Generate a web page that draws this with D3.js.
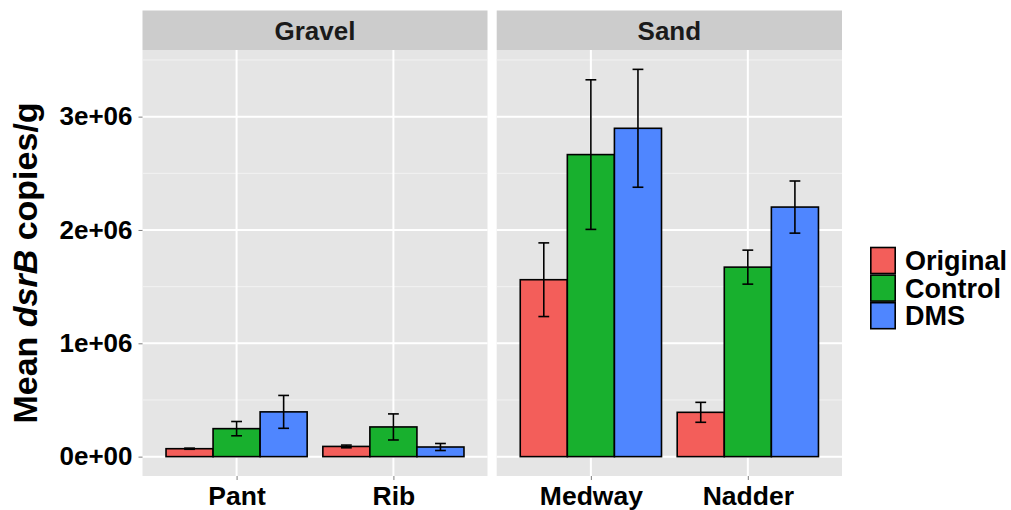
<!DOCTYPE html>
<html>
<head>
<meta charset="utf-8">
<script src="https://cdn.jsdelivr.net/npm/d3@7"></script>
<style>
  body { margin: 0; background: #fff; }
  text { font-family: "Liberation Sans", Arial, Helvetica, sans-serif; font-weight: bold; }
</style>
</head>
<body>
<svg id="chart" width="1011" height="510"></svg>
<script>
// ---- data ----
const habitats = ["Gravel", "Sand"];
const sitesByHabitat = [["Pant", "Rib"], ["Medway", "Nadder"]];
const treatments = ["Original", "Control", "DMS"];
// mean dsrB copies/g per site, order: Original, Control, DMS
const meanPant   = [70000, 247000, 395000];
const meanRib    = [90000, 262000, 85000];
const meanMedway = [1561000, 2665000, 2897000];
const meanNadder = [391000, 1672000, 2202000];
// standard errors
const sePant   = [5000, 63000, 145000];
const seRib    = [12000, 115000, 31000];
const seMedway = [325000, 660000, 520000];
const seNadder = [88000, 150000, 230000];
const yTicks = [0, 1000000, 2000000, 3000000];
const yTickLabels = ["0e+00", "1e+06", "2e+06", "3e+06"];
const colors = ["#F35E5A", "#18B02E", "#4F86FF"];

const siteMeans = { Pant: meanPant, Rib: meanRib, Medway: meanMedway, Nadder: meanNadder };
const siteSE = { Pant: sePant, Rib: seRib, Medway: seMedway, Nadder: seNadder };

const rows = [];
habitats.forEach((h, hi) => {
  sitesByHabitat[hi].forEach(s => {
    treatments.forEach((t, ti) => {
      rows.push({ habitat: h, site: s, treatment: t, mean: siteMeans[s][ti], se: siteSE[s][ti] });
    });
  });
});

// ---- layout ----
const svg = d3.select("#chart");
const plotTop = 50, plotBottom = 476, stripTop = 10.5;
const panels = [{ x0: 142.5, x1: 487.5 }, { x0: 496.7, x1: 842 }];

const maxY = d3.max(rows, d => d.mean + d.se);
const pad = maxY * 0.05;
const y = d3.scaleLinear().domain([-pad, maxY + pad]).range([plotBottom, plotTop]);
const minorTicks = [500000, 1500000, 2500000, 3500000];

const color = d3.scaleOrdinal().domain(treatments).range(colors);

habitats.forEach((h, hi) => {
  const p = panels[hi];
  const g = svg.append("g");
  // panel background
  g.append("rect").attr("x", p.x0).attr("y", plotTop).attr("width", p.x1 - p.x0)
    .attr("height", plotBottom - plotTop).attr("fill", "#E5E5E5");
  // strip
  g.append("rect").attr("x", p.x0).attr("y", stripTop).attr("width", p.x1 - p.x0)
    .attr("height", plotTop - stripTop).attr("fill", "#CCCCCC");
  g.append("text").attr("x", (p.x0 + p.x1) / 2).attr("y", (stripTop + plotTop) / 2)
    .attr("dy", "0.36em").attr("text-anchor", "middle").attr("font-size", 26)
    .attr("fill", "#1A1A1A").text(h);

  const x = d3.scalePoint().domain(sitesByHabitat[hi]).range([p.x0, p.x1]).padding(0.6);
  const step = x.step();
  const inner = d3.scaleBand().domain(treatments).range([-0.45 * step, 0.45 * step]).padding(0);

  // minor grid
  g.selectAll(".minor").data(minorTicks.filter(v => y(v) > plotTop)).join("line")
    .attr("x1", p.x0).attr("x2", p.x1).attr("y1", d => y(d)).attr("y2", d => y(d))
    .attr("stroke", "#F2F2F2").attr("stroke-width", 1);
  // major grid
  g.selectAll(".major").data(yTicks).join("line")
    .attr("x1", p.x0).attr("x2", p.x1).attr("y1", d => y(d)).attr("y2", d => y(d))
    .attr("stroke", "#FFFFFF").attr("stroke-width", 2);
  g.selectAll(".vgrid").data(sitesByHabitat[hi]).join("line")
    .attr("x1", d => x(d)).attr("x2", d => x(d)).attr("y1", plotTop).attr("y2", plotBottom)
    .attr("stroke", "#FFFFFF").attr("stroke-width", 2);

  const data = rows.filter(r => r.habitat === h);
  // bars
  g.selectAll(".bar").data(data).join("rect")
    .attr("x", d => x(d.site) + inner(d.treatment))
    .attr("width", inner.bandwidth())
    .attr("y", d => y(d.mean))
    .attr("height", d => y(0) - y(d.mean))
    .attr("fill", d => color(d.treatment))
    .attr("stroke", "#000").attr("stroke-width", 1.6);
  // error bars
  const wh = inner.bandwidth() * 0.23;
  const eb = g.selectAll(".eb").data(data).join("g")
    .attr("transform", d => `translate(${x(d.site) + inner(d.treatment) + inner.bandwidth() / 2},0)`);
  eb.append("line").attr("x1", 0).attr("x2", 0)
    .attr("y1", d => y(d.mean + d.se)).attr("y2", d => y(d.mean - d.se))
    .attr("stroke", "#000").attr("stroke-width", 1.6);
  eb.append("line").attr("x1", -wh / 2).attr("x2", wh / 2)
    .attr("y1", d => y(d.mean + d.se)).attr("y2", d => y(d.mean + d.se))
    .attr("stroke", "#000").attr("stroke-width", 1.6);
  eb.append("line").attr("x1", -wh / 2).attr("x2", wh / 2)
    .attr("y1", d => y(d.mean - d.se)).attr("y2", d => y(d.mean - d.se))
    .attr("stroke", "#000").attr("stroke-width", 1.6);

  // x axis
  const xAxis = d3.axisBottom(x).tickSize(4).tickPadding(7);
  const ax = g.append("g").attr("transform", `translate(0,${plotBottom})`).call(xAxis);
  ax.select(".domain").remove();
  ax.selectAll(".tick line").attr("stroke", "#7F7F7F").attr("stroke-width", 1);
  ax.selectAll(".tick text").attr("font-size", 26.5).attr("fill", "#000")
    .attr("font-family", "Liberation Sans, Arial, sans-serif").attr("font-weight", "bold")
    .attr("dy", "0.69em");
});

// y axis
const yAxis = d3.axisLeft(y).tickValues(yTicks).tickFormat((d, i) => yTickLabels[i]).tickSize(4).tickPadding(6);
const ay = svg.append("g").attr("transform", `translate(${panels[0].x0},0)`).call(yAxis);
ay.select(".domain").remove();
ay.selectAll(".tick line").attr("stroke", "#7F7F7F").attr("stroke-width", 1);
ay.selectAll(".tick text").attr("font-size", 26).attr("fill", "#000")
  .attr("font-family", "Liberation Sans, Arial, sans-serif").attr("font-weight", "bold");

// y title
const yt = svg.append("text").attr("transform", `translate(37,${(plotTop + plotBottom) / 2}) rotate(-90)`)
  .attr("text-anchor", "middle").attr("font-size", 34).attr("fill", "#000");
yt.append("tspan").text("Mean ");
yt.append("tspan").attr("font-style", "italic").text("dsrB");
yt.append("tspan").text(" copies/g");

// legend
const keyW = 26, keyH = 27.6, legX = 870, legY = 246.7;
const leg = svg.selectAll(".leg").data(treatments).join("g")
  .attr("transform", (d, i) => `translate(${legX},${legY + i * keyH})`);
leg.append("rect").attr("x", 0.8).attr("y", 0.8).attr("width", keyW - 1.6).attr("height", keyH - 1.6)
  .attr("fill", d => color(d)).attr("stroke", "#000").attr("stroke-width", 1.6);
leg.append("text").attr("x", 35).attr("y", keyH / 2).attr("dy", "0.36em")
  .attr("font-size", 27).attr("fill", "#000").text(d => d);
</script>
</body>
</html>
